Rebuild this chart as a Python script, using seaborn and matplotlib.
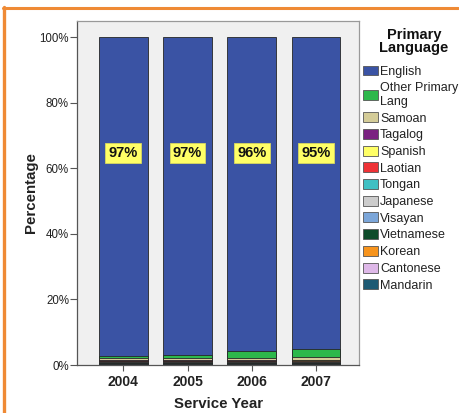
import numpy as np
import pandas as pd
import matplotlib
matplotlib.use("Agg")
import matplotlib.pyplot as plt
from matplotlib.patches import Patch
from matplotlib.lines import Line2D
import seaborn as sns

# Service years and primary-language share (percent of clients), top of stack first
years = ["2004", "2005", "2006", "2007"]
languages = ["English", "Other Primary\nLang", "Samoan", "Tagalog", "Spanish",
             "Laotian", "Tongan", "Japanese", "Visayan", "Vietnamese",
             "Korean", "Cantonese", "Mandarin"]
english    = [97.2, 97.0, 95.8, 95.2]
other_lang = [0.8, 1.0, 2.2, 2.5]
samoan     = [0.6, 0.6, 0.5, 0.7]
tagalog    = [0.2, 0.2, 0.2, 0.2]
spanish    = [0.1, 0.1, 0.2, 0.3]
laotian    = [0.1, 0.1, 0.1, 0.1]
tongan     = [0.2, 0.2, 0.2, 0.2]
japanese   = [0.1, 0.1, 0.1, 0.1]
visayan    = [0.1, 0.1, 0.1, 0.1]
vietnamese = [0.2, 0.2, 0.2, 0.2]
korean     = [0.1, 0.1, 0.1, 0.1]
cantonese  = [0.1, 0.1, 0.1, 0.1]
mandarin   = [0.2, 0.2, 0.2, 0.2]
label_pct  = [97, 97, 96, 95]

colors = ["#3A53A4", "#2DB84B", "#D4CC98", "#7B2281", "#FFFF66", "#EE3236",
          "#3FC0C3", "#CCCCCC", "#7BA6D9", "#0E4C2A", "#F7941D", "#DEB8E8",
          "#1D5A74"]

series = [english, other_lang, samoan, tagalog, spanish, laotian, tongan,
          japanese, visayan, vietnamese, korean, cantonese, mandarin]
df = pd.DataFrame(np.array(series).T, columns=languages)
df["year"] = years

sns.set_theme(style="white")
plt.rcParams["font.family"] = ["Liberation Sans", "DejaVu Sans"]

fig = plt.figure(figsize=(4.59, 4.13), dpi=100)
fig.patch.set_facecolor("white")
W, H = 459, 413
ax = fig.add_axes([77.3 / W, (H - 365) / H, 282 / W, 344 / H])
ax.set_facecolor("#F0F0F0")

# stacked bars: draw cumulative totals from the top segment down
cum = df[languages[::-1]].cumsum(axis=1)[languages[::-1]]
for lang, col in zip(languages, colors):
    sns.barplot(x=df["year"], y=cum[lang], order=years, color=col,
                width=0.76, edgecolor="#262626", linewidth=0.6,
                saturation=1, ax=ax)

for i, pct in enumerate(label_pct):
    ax.text(i, 64.6, f"{pct}%", ha="center", va="center", fontsize=10.5,
            fontweight="bold", color="#111111",
            bbox=dict(boxstyle="square,pad=0.22", facecolor="#FFFF66",
                      edgecolor="#d8d860", linewidth=0.6))

ax.set_xlim(-0.717, 3.676)
ax.set_ylim(0, 104.9)
ax.set_yticks([0, 20, 40, 60, 80, 100])
ax.set_yticklabels([f"{v}%" for v in [0, 20, 40, 60, 80, 100]],
                   fontsize=8.3, color="#222222")
ax.set_xticks(range(len(years)))
ax.set_xticklabels(years, fontsize=10, fontweight="bold", color="#222222")
ax.tick_params(axis="y", direction="out", length=5, width=0.8,
               color="#555555", pad=1, left=True)
ax.tick_params(axis="x", direction="out", length=4, width=0.8,
               color="#555555", pad=3, bottom=True)
ax.set_xlabel("Service Year", fontsize=10.8, fontweight="bold",
              color="#222222", labelpad=6)
ax.set_ylabel("Percentage", fontsize=10.8, fontweight="bold", color="#222222")
ax.yaxis.set_label_coords(-0.138, 0.5)
for side in ["top", "right"]:
    ax.spines[side].set_color("#999999")
    ax.spines[side].set_linewidth(0.9)
for side in ["left", "bottom"]:
    ax.spines[side].set_color("#555555")
    ax.spines[side].set_linewidth(0.9)

# legend title and entries
fig.text(414 / W, 1 - 41.5 / H, "Primary\nLanguage", ha="center", va="center",
         fontsize=10.5, fontweight="bold", color="#111111", linespacing=0.95)
handles = [Patch(facecolor=c, edgecolor="#555555", linewidth=0.6, label=l)
           for l, c in zip(languages, colors)]
leg = fig.legend(handles=handles, loc="upper left",
                 bbox_to_anchor=(360 / W, 1 - 63 / H),
                 frameon=False, fontsize=9, handlelength=1.2,
                 handleheight=0.85, handletextpad=0.2, labelspacing=0.35,
                 borderaxespad=0, borderpad=0.2)
for t in leg.get_texts():
    t.set_color("#222222")

# orange page border
fig.add_artist(Line2D([4 / W, 4 / W], [0, 1 - 7 / H], color="#EF8A35",
                      linewidth=2.4, transform=fig.transFigure))
fig.add_artist(Line2D([3 / W, 458 / W], [1 - 8 / H, 1 - 8 / H],
                      color="#EF8A35", linewidth=2.2,
                      transform=fig.transFigure))

fig.savefig("out.png", dpi=100)
